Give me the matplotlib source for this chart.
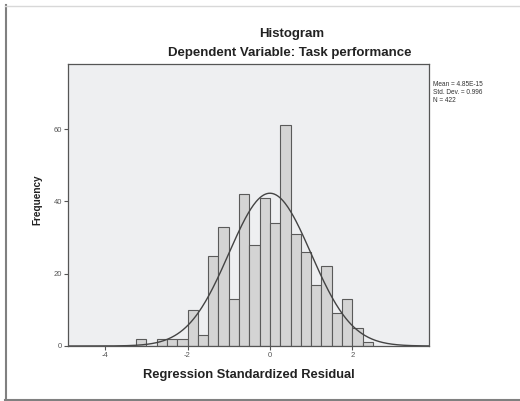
import matplotlib.pyplot as plt
import numpy as np
from matplotlib.lines import Line2D

# bin edges of 0.25 from -3.25 to 2.5
bin_edges = np.arange(-3.25, 2.51, 0.25)
frequencies = [2, 0, 2, 2, 2, 10, 3, 25, 33, 13, 42, 28, 41, 34, 61, 31, 26, 17, 22, 9, 13, 5, 1]

mean_val = 4.85e-15
std_val = 0.996
n_obs = 422

x_ticks = [-4, -2, 0, 2]
y_ticks = [0, 20, 40, 60]

W, H = 520, 401
plt.rcParams["font.family"] = ["Liberation Sans", "DejaVu Sans"]
plt.rcParams["axes.unicode_minus"] = False
fig = plt.figure(figsize=(W / 100, H / 100), dpi=100)
fig.patch.set_facecolor("white")

left, right, top, bottom = 68, 429, 64, 346
ax = fig.add_axes([left / W, 1 - bottom / H, (right - left) / W, (bottom - top) / H])
ax.set_facecolor("#eeeff1")

ax.bar(bin_edges[:-1], frequencies, width=0.25, align="edge",
       color="#d4d4d4", edgecolor="#5a5a5a", linewidth=0.8)

# fitted normal curve from reported mean / sd
xs = np.linspace(-4.9, 3.86, 400)
scale = n_obs * 0.25
ys = scale / (std_val * np.sqrt(2 * np.pi)) * np.exp(-0.5 * ((xs - mean_val) / std_val) ** 2)
ax.plot(xs, ys, color="#444444", linewidth=1.0)

ax.set_xlim(-4.9, 3.86)
ax.set_ylim(0, 78)
ax.set_xticks(x_ticks)
ax.set_yticks(y_ticks)
ax.tick_params(labelsize=5.5, colors="#555555", length=3, width=0.8, pad=1.5)
for s in ax.spines.values():
    s.set_color("#555555")
    s.set_linewidth(0.9)

ax.set_xlabel("Regression Standardized Residual", fontsize=9.3, fontweight="bold",
              color="#222222", labelpad=7)
ax.set_ylabel("Frequency", fontsize=7.2, fontweight="bold", color="#222222")
ax.yaxis.set_label_coords(-(68 - 42) / (right - left), (bottom - 200) / (bottom - top))

fig.text(292 / W, 1 - 34 / H, "Histogram", ha="center", va="center",
         fontsize=9.5, fontweight="bold", color="#222222")
fig.text(290 / W, 1 - 53 / H, "Dependent Variable: Task performance", ha="center",
         va="center", fontsize=9.5, fontweight="bold", color="#222222")
fig.text(433 / W, 1 - 81 / H,
         f"Mean = 4.85E-15\nStd. Dev. = {std_val:.3f}\nN = {n_obs}",
         ha="left", va="top", fontsize=4.7, color="#333333", linespacing=1.15)

# outer frame lines
fig.add_artist(Line2D([5.5 / W, 5.5 / W], [1 - 5 / H, 0], color="#808080", linewidth=1.5))
fig.add_artist(Line2D([5 / W, 1], [1 - 5.5 / H, 1 - 5.5 / H], color="#d8d8d8", linewidth=1))
fig.add_artist(Line2D([5 / W, 1], [0.8 / H, 0.8 / H], color="#808080", linewidth=1.5))

fig.savefig("out.png", dpi=100)
